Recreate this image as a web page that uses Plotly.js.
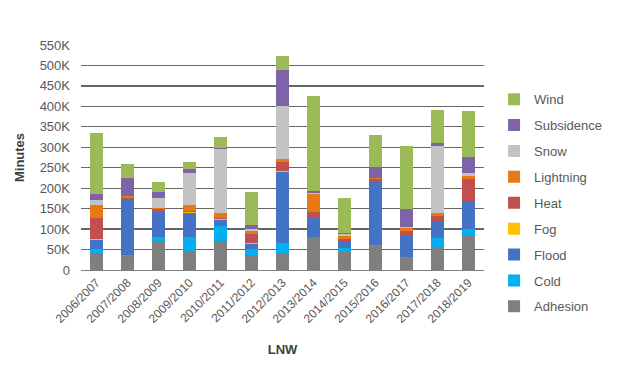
<!DOCTYPE html>
<html>
<head>
<meta charset="utf-8">
<script src="https://cdn.plot.ly/plotly-3.0.1.min.js"></script>
<style>html,body{margin:0;padding:0;background:#fff;}#chart{width:620px;height:380px;}</style>
</head>
<body>
<div id="chart"></div>
<script>
// Values in thousands of minutes
const categories = ['2006/2007','2007/2008','2008/2009','2009/2010','2010/2011','2011/2012','2012/2013','2013/2014','2014/2015','2015/2016','2016/2017','2017/2018','2018/2019'];
const adhesion   = [42, 35, 70, 44, 70, 37, 41, 80, 45, 59, 30, 57, 84];
const cold       = [10,  2, 10, 36, 37, 14, 25,  0,  8,  1,  2, 21, 16];
const flood      = [21,135, 61, 59, 16, 13,173, 47, 17,155, 50, 41, 68];
const heat       = [53,  3,  7,  4,  4, 22, 22, 14,  5,  8, 12, 12, 54];
const fog        = [ 2,  0,  1,  2,  1,  1,  2,  0,  1,  0,  1,  1,  1];
const lightning  = [30,  5,  2, 15, 12,  8,  8, 46,  7,  2,  8,  7,  8];
const snow       = [14,  2, 26, 78,156,  6,131,  2,  4,  1,  1,164,  7];
const subsidence = [13, 43, 14, 10,  2,  8, 86,  4,  4, 25, 46,  8, 38];
const wind       = [150,33, 23, 16, 26, 82, 35,233, 86, 80,152, 80,112];
const seriesNames = ['Adhesion','Cold','Flood','Fog','Heat','Lightning','Snow','Subsidence','Wind'];
const yTickVals = [0,50,100,150,200,250,300,350,400,450,500,550];
const yTickText = ['0','50K','100K','150K','200K','250K','300K','350K','400K','450K','500K','550K'];

const seriesData = {Adhesion:adhesion, Cold:cold, Flood:flood, Fog:fog, Heat:heat, Lightning:lightning, Snow:snow, Subsidence:subsidence, Wind:wind};
const colors = {Adhesion:'#7f7f7f', Cold:'#00b0f0', Flood:'#4472c4', Fog:'#ffc000', Heat:'#c0504d', Lightning:'#e87a14', Snow:'#c3c3c3', Subsidence:'#7f63a8', Wind:'#9bbb59'};
const traces = seriesNames.map((n, i) => ({
  type:'bar', name:n, x:categories, y:seriesData[n],
  marker:{color:colors[n]}, legendgroup:n, legendrank:1000 - i, hoverinfo:'skip'
}));

const layout = {
  width:620, height:380,
  margin:{l:81, r:136, t:45, b:110},
  barmode:'stack', bargap:0.6,
  paper_bgcolor:'#fff', plot_bgcolor:'#fff',
  font:{family:'Liberation Sans, Arial, sans-serif', color:'#595959'},
  xaxis:{
    tickangle:-45, tickfont:{size:12, color:'#595959'},
    showline:true, linecolor:'#808080', linewidth:1, ticks:'',
    title:{text:'<b>LNW</b>', font:{size:13, color:'#404040'}, standoff:20}
  },
  yaxis:{
    range:[0,550], tickvals:yTickVals, ticktext:yTickText,
    tickfont:{size:13, color:'#595959'},
    gridcolor:'#666666', gridwidth:1.2, zeroline:false, showline:false,
    ticks:'', ticklen:0, ticklabelstandoff:10,
    title:{text:'<b>Minutes</b>', font:{size:13, color:'#404040'}, standoff:12}
  },
  legend:{
    x:1.025, y:0.297, xanchor:'left', yanchor:'middle',
    traceorder:'grouped', tracegroupgap:6, maxheight:320,
    font:{size:13, color:'#595959'},
    itemwidth:30
  },
  showlegend:true
};
Plotly.newPlot('chart', traces, layout, {staticPlot:true, displayModeBar:false});
</script>
</body>
</html>
